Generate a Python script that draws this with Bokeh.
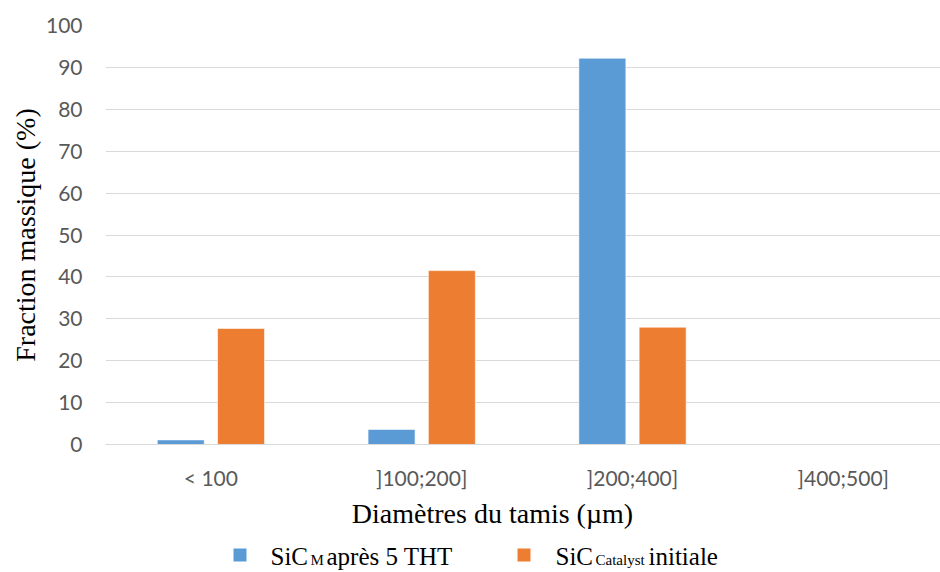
from bokeh.plotting import figure
from bokeh.models import ColumnDataSource, FixedTicker, Range1d
from bokeh.layouts import column
from bokeh.transform import dodge
from bokeh.core.properties import value
from bokeh.embed import file_html
from bokeh.resources import INLINE

categories = ["< 100", "]100;200]", "]200;400]", "]400;500]"]
sic_m_apres = [1.1, 3.6, 92.2, 0.0]
sic_catalyst_initiale = [27.7, 41.5, 28.0, 0.0]
y_ticks = [0, 10, 20, 30, 40, 50, 60, 70, 80, 90, 100]

BLUE = "#5B9BD5"
ORANGE = "#ED7D31"
GRID = "#D9D9D9"
TICK_COLOR = "#595959"
SERIF = "Liberation Serif"

W = 940
H_MAIN = 492
H_LEG = 80
FL, FT = 105, 25
FB = H_MAIN - 444
CAT_PX = 210.8
x_end = -0.5 + (W - FL) / CAT_PX

src = ColumnDataSource(dict(
    xi=list(range(len(categories))),
    a=sic_m_apres,
    b=sic_catalyst_initiale,
))

p = figure(width=W, height=H_MAIN, output_backend="svg", toolbar_location=None,
           x_range=Range1d(-0.5, x_end), y_range=Range1d(0, 100),
           min_border_left=FL, min_border_right=0, min_border_top=FT,
           min_border_bottom=FB, outline_line_color=None)

p.vbar(x=dodge("xi", -0.143, range=p.x_range), top="a", width=0.223, bottom=0,
       source=src, fill_color=BLUE, line_color="white", line_alpha=0.6, line_width=1)
p.vbar(x=dodge("xi", 0.143, range=p.x_range), top="b", width=0.223, bottom=0,
       source=src, fill_color=ORANGE, line_color="white", line_alpha=0.6, line_width=1)

p.yaxis.ticker = FixedTicker(ticks=y_ticks)
p.xaxis.ticker = FixedTicker(ticks=list(range(len(categories))))
p.xaxis.major_label_overrides = {i: c for i, c in enumerate(categories)}
for ax in (p.xaxis, p.yaxis):
    ax.major_tick_line_color = None
    ax.minor_tick_line_color = None
    ax.major_label_text_font = "Lato"
    ax.major_label_text_font_size = "21px"
    ax.major_label_text_color = TICK_COLOR
p.yaxis.axis_line_color = None
p.xaxis.axis_line_color = GRID
p.yaxis.major_label_standoff = 17
p.xaxis.major_label_standoff = 14

p.yaxis.axis_label = "Fraction massique (%)"
p.yaxis.axis_label_text_font = SERIF
p.yaxis.axis_label_text_font_size = "28px"
p.yaxis.axis_label_text_font_style = "normal"
p.yaxis.axis_label_text_color = "#000000"
p.yaxis.axis_label_standoff = 2

p.xgrid.grid_line_color = None
p.ygrid.grid_line_color = GRID
p.ygrid.grid_line_width = 1

# lower panel: x-axis title and legend; its frame shares the main frame's left edge,
# and its ranges are in page pixels (y downward from the top of this panel)
q = figure(width=W, height=H_LEG, output_backend="svg", toolbar_location=None,
           x_range=Range1d(FL, W), y_range=Range1d(H_LEG, 0),
           min_border_left=FL, min_border_right=0, min_border_top=0,
           min_border_bottom=0, outline_line_color=None)
q.axis.visible = False
q.grid.grid_line_color = None

q.text(x=[492], y=[21], text=["Diamètres du tamis (µm)"], text_font=value(SERIF),
       text_font_size="28px", text_color="#000000", text_align="center",
       text_baseline="middle")

BASE = 72  # legend baseline (panel pixels)
q.scatter(x=[239.5, 523.5], y=[BASE - 9.5, BASE - 9.5], marker="square", size=13,
          fill_color=[BLUE, ORANGE], line_color=None)

def t(x, s, size, shift):
    q.text(x=[x], y=[BASE - shift], text=[s], text_font=value(SERIF), text_font_size=size,
           text_color="#000000", text_align="left", text_baseline="middle")

t(270, "SiC", "25px", 8)
t(310, "M", "15px", 5)
t(326, "après 5 THT", "25px", 8)
t(555, "SiC", "25px", 8)
t(595, "Catalyst", "15px", 5)
t(648, "initiale", "25px", 8)

open("out.html", "w").write(file_html(column(p, q, spacing=0), INLINE))
